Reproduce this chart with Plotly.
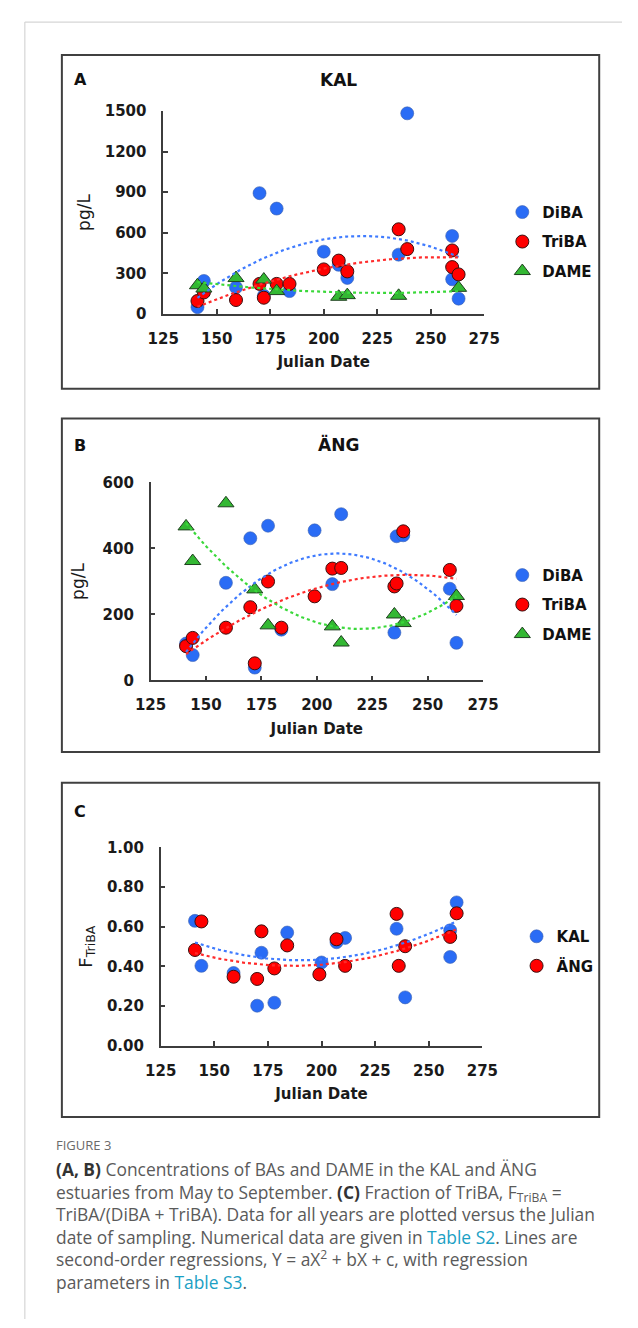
import numpy as np
import plotly.graph_objects as go

W, H = 638, 1328

# ---------------- data ----------------
days15 = [141, 144, 159, 170, 172, 178, 184, 200, 207, 211, 235, 239, 260, 260, 263]

# Panel A - KAL (pg/L)
kal_diba_day = days15
kal_diba = [51, 245, 197, 893, 135, 779, 170, 461, 364, 267, 439, 1482, 577, 257, 114]
kal_triba_day = days15
kal_triba = [97, 160, 104, 223, 121, 223, 223, 330, 395, 315, 626, 480, 470, 347, 293]
kal_dame_day = [141, 144, 159, 172, 178, 207, 211, 235, 263]
kal_dame = [213, 189, 266, 255, 170, 128, 140, 135, 194]

# Panel B - ÄNG (pg/L)
ang_day = [141, 144, 159, 170, 172, 178, 184, 199, 207, 211, 235, 236, 239, 260, 263]
ang_diba = [112, 77, 296, 431, 39, 469, 154, 455, 292, 504, 145, 437, 440, 278, 114]
ang_triba = [104, 129, 160, 222, 52, 300, 160, 255, 339, 341, 285, 294, 452, 335, 226]
ang_dame_day = [141, 144, 159, 172, 178, 207, 211, 235, 239, 263]
ang_dame = [467, 362, 537, 276, 167, 164, 115, 200, 174, 256]

# Panel C - fraction of TriBA
f_kal_day = [141, 144, 159, 170, 172, 178, 184, 200, 207, 211, 235, 239, 260, 260, 263]
f_kal = [0.630, 0.403, 0.367, 0.202, 0.469, 0.217, 0.571, 0.420, 0.522, 0.544, 0.590, 0.244, 0.582, 0.448, 0.723]
f_ang_day = [141, 144, 159, 170, 172, 178, 184, 199, 207, 211, 235, 236, 239, 260, 263]
f_ang = [0.483, 0.627, 0.348, 0.337, 0.577, 0.390, 0.506, 0.360, 0.537, 0.403, 0.665, 0.403, 0.502, 0.549, 0.668]

x_ticks = [125, 150, 175, 200, 225, 250, 275]
yA_ticks = [0, 300, 600, 900, 1200, 1500]
yB_ticks = [0, 200, 400, 600]
yC_ticks = [0.0, 0.2, 0.4, 0.6, 0.8, 1.0]

# ---------------- styling ----------------
BLUE = "#2a6cf5"
RED = "#ff0000"
GREEN = "#33b833"
LBLUE = "#3f7bff"
LRED = "#ff2a2a"
LGREEN = "#3ad83a"
AX = "#3c3c3c"
FONT = "DejaVu Sans"


def px(x):
    return x / W


def py(y):
    return 1 - y / H


def fit_line(xd, yd):
    c = np.polyfit(np.asarray(xd, float), np.asarray(yd, float), 2)
    xs = np.linspace(min(xd), max(xd), 120)
    return xs, np.polyval(c, xs)


fig = go.Figure()

circle_blue = dict(symbol="circle", size=13, color=BLUE, line=dict(color="#3a5fae", width=0.6))
circle_red = dict(symbol="circle", size=13, color=RED, line=dict(color="#3a1010", width=1))
tri_green = dict(symbol="triangle-up", size=14, color=GREEN, line=dict(color="#1f3f1f", width=1))


def add_panel(n, series, lines, legend):
    xa = "x" if n == 1 else f"x{n}"
    ya = "y" if n == 1 else f"y{n}"
    for name, xd, yd, mk in series:
        fig.add_trace(go.Scatter(x=xd, y=yd, mode="markers", name=name, marker=mk,
                                 xaxis=xa, yaxis=ya, legend=legend, legendgroup=legend + name,
                                 cliponaxis=False))
    for (xd, yd, col) in lines:
        xs, ys = fit_line(xd, yd)
        fig.add_trace(go.Scatter(x=xs, y=ys, mode="lines", line=dict(color=col, width=2.2, dash="dot"),
                                 xaxis=xa, yaxis=ya, showlegend=False, hoverinfo="skip"))


add_panel(1, [("DiBA", kal_diba_day, kal_diba, circle_blue),
              ("TriBA", kal_triba_day, kal_triba, circle_red),
              ("DAME", kal_dame_day, kal_dame, tri_green)],
          [(kal_diba_day, kal_diba, LBLUE), (kal_triba_day, kal_triba, LRED), (kal_dame_day, kal_dame, LGREEN)],
          "legend")
add_panel(2, [("DiBA", ang_day, ang_diba, circle_blue),
              ("TriBA", ang_day, ang_triba, circle_red),
              ("DAME", ang_dame_day, ang_dame, tri_green)],
          [(ang_day, ang_diba, LBLUE), (ang_day, ang_triba, LRED), (ang_dame_day, ang_dame, LGREEN)],
          "legend2")
# in the reference the two panel-C trend lines carry swapped colours
add_panel(3, [("KAL", f_kal_day, f_kal, circle_blue),
              ("ÄNG", f_ang_day, f_ang, circle_red)],
          [(f_ang_day, f_ang, LBLUE), (f_kal_day, f_kal, LRED)],
          "legend3")

tick_font = dict(family=FONT, size=15, color="#1a1a1a", weight="bold")
title_font = dict(family=FONT, size=15, color="#1a1a1a", weight="bold")


def xaxis(x0, x1, anchor):
    return dict(domain=[px(x0), px(x1)], range=[125, 275], tickvals=x_ticks, anchor=anchor,
                showline=True, linecolor=AX, linewidth=1.5, ticks="inside", ticklen=5, tickwidth=1.5,
                tickcolor=AX, showgrid=False, zeroline=False, tickfont=tick_font, ticklabelstandoff=10,
                title=dict(text="Julian Date", font=title_font, standoff=10))


def yaxis(ybot, ytop, rng, tv, anchor, title, fmt=None, standoff=10, tsize=17):
    d = dict(domain=[py(ybot), py(ytop)], range=rng, tickvals=tv, anchor=anchor,
             showline=True, linecolor=AX, linewidth=1.5, ticks="inside", ticklen=5, tickwidth=1.5,
             tickcolor=AX, showgrid=False, zeroline=False, tickfont=tick_font, ticklabelstandoff=12,
             title=dict(text=title, font=dict(family=FONT, size=tsize, color="#1a1a1a"), standoff=standoff))
    if fmt:
        d["tickformat"] = fmt
    return d


legend_common = dict(font=dict(family=FONT, size=15, color="#111111", weight="bold"),
                     bgcolor="rgba(0,0,0,0)", borderwidth=0, tracegroupgap=7,
                     xanchor="left", yanchor="middle", itemclick=False, itemdoubleclick=False)

fig.update_layout(
    width=W, height=H, margin=dict(l=0, r=0, t=0, b=0),
    paper_bgcolor="white", plot_bgcolor="white", hovermode=False,
    xaxis=xaxis(155, 493, "y"),
    yaxis=yaxis(309.3, 103.3, [0, 1500], yA_ticks, "x", "pg/L", standoff=10),
    xaxis2=xaxis(141.7, 491.7, "y2"),
    yaxis2=yaxis(680.7, 480, [0, 600], yB_ticks, "x2", "pg/L", standoff=14),
    xaxis3=xaxis(152.3, 491, "y3"),
    yaxis3=yaxis(1051, 850, [0, 1], yC_ticks, "x3", "F<sub>TriBA</sub>", fmt=".2f", standoff=10, tsize=18),
    legend=dict(x=px(512), y=py(236), **legend_common),
    legend2=dict(x=px(512), y=py(604), **legend_common),
    legend3=dict(x=px(527), y=py(955), **legend_common),
)

# ---------------- frames ----------------
shapes = [
    dict(type="line", xref="paper", yref="paper", x0=px(9.3), x1=1, y0=py(13.3), y1=py(13.3),
         line=dict(color="#d6d6d6", width=1.2)),
    dict(type="line", xref="paper", yref="paper", x0=px(9.3), x1=px(9.3), y0=py(13.3), y1=0,
         line=dict(color="#d6d6d6", width=1.2)),
]
for (t, b) in [(46.7, 385), (415, 753.3), (784.3, 1123.3)]:
    shapes.append(dict(type="rect", xref="paper", yref="paper", x0=px(48.3), x1=px(614),
                       y0=py(b), y1=py(t), line=dict(color="#404040", width=2), fillcolor="rgba(0,0,0,0)"))
fig.update_layout(shapes=shapes)

# ---------------- annotations ----------------
ann = []
for lab, y in [("A", 71), ("B", 443), ("C", 814)]:
    ann.append(dict(text=f"<b>{lab}</b>", x=px(59), y=py(y), xref="paper", yref="paper",
                    xanchor="left", yanchor="middle", showarrow=False,
                    font=dict(family=FONT, size=16, color="#111")))
for lab, y in [("KAL", 72), ("ÄNG", 441)]:
    ann.append(dict(text=f"<b>{lab}</b>", x=px(340), y=py(y), xref="paper", yref="paper",
                    xanchor="center", yanchor="middle", showarrow=False,
                    font=dict(family=FONT, size=17, color="#111")))

CAP = "Open Sans"
CAPC = "#5a5a5a"
LINK = "#1aa0c4"
ann.append(dict(text="FIGURE 3", x=px(40), y=py(1152), xref="paper", yref="paper", xanchor="left",
                yanchor="middle", showarrow=False, font=dict(family=CAP, size=13, color="#6a6a6a")))
cap_lines = [
    "<b style='color:#333'>(A, B)</b> Concentrations of BAs and DAME in the KAL and ÄNG",
    "estuaries from May to September. <b style='color:#333'>(C)</b> Fraction of TriBA, F<sub>TriBA</sub> =",
    "TriBA/(DiBA + TriBA). Data for all years are plotted versus the Julian",
    f"date of sampling. Numerical data are given in <span style='color:{LINK}'>Table S2</span>. Lines are",
    "second-order regressions, Y = aX<sup>2</sup> + bX + c, with regression",
    f"parameters in <span style='color:{LINK}'>Table S3</span>.",
]
ann.append(dict(text="<br>".join(cap_lines), x=px(40), y=py(1162), xref="paper", yref="paper",
                xanchor="left", yanchor="top", align="left", showarrow=False,
                font=dict(family=CAP, size=17.4, color=CAPC)))
fig.update_layout(annotations=ann)

fig.write_html("out.html", post_script="document.body.style.margin='0px';document.body.style.overflow='hidden';")
